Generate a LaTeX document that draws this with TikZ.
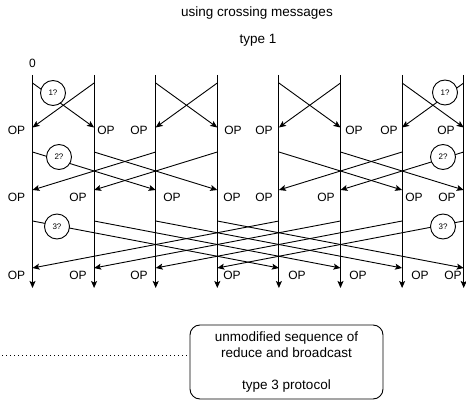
\documentclass[tikz,border=0pt]{standalone}
\usepackage{fontspec}
\setmainfont{Liberation Sans}
\usetikzlibrary{arrows.meta}

\begin{document}
\begin{tikzpicture}[x=1pt,y=-1pt,->,>={Stealth[length=7pt,width=6pt,inset=1.5pt]},line width=0.9pt,
    op/.style={font=\fontsize{12}{14}\selectfont},
    caption/.style={font=\fontsize{13.5}{16.3}\selectfont},
    query/.style={-,shape=circle,draw=black,fill=white,minimum size=25pt,inner sep=0pt,font=\fontsize{8}{9}\selectfont}]
                \useasboundingbox (0,0) rectangle (466,401);
                \node[caption](title)at(257,13){using crossing messages};
                \node[caption](kind)at(258,40){type 1};
                \node[op](zero)at(32.5,63){0};
                % timelines and the points where messages leave and arrive
                \foreach \i in {0,...,7}{
                    \coordinate (t\i) at (32.5+61.6*\i,75);
                    \coordinate (b\i) at (32.5+61.6*\i,288);
                    \coordinate (s1-\i) at (32.5+61.6*\i,83);
                    \coordinate (e1-\i) at (32.5+61.6*\i,127.5);
                    \coordinate (s2-\i) at (32.5+61.6*\i,152);
                    \coordinate (e2-\i) at (32.5+61.6*\i,190);
                    \coordinate (s3-\i) at (32.5+61.6*\i,221);
                    \coordinate (e3-\i) at (32.5+61.6*\i,268);
                    \draw (t\i) -- (b\i);
                }
                % crossing messages
                \foreach \a/\b in {0/1,1/0,2/3,3/2,4/5,5/4,6/7,7/6}
                    \draw (s1-\a) -- (e1-\b);
                \foreach \a/\b in {0/2,2/0,1/3,3/1,4/6,6/4,5/7,7/5}
                    \draw (s2-\a) -- (e2-\b);
                \foreach \a/\b in {0/4,4/0,1/5,5/1,2/6,6/2,3/7,7/3}
                    \draw (s3-\a) -- (e3-\b);
                \node[query](q1l)at(53,93){1?};
                \node[query](q2l)at(59,157){2?};
                \node[query](q3l)at(57,226.5){3?};
                \node[query](q1r)at(445,92.5){1?};
                \node[query](q2r)at(443,157){2?};
                \node[query](q3r)at(443,226.5){3?};
                % OP labels
                \foreach \x [count=\n] in {16.5,106,139,233,264,354,389,446}
                    \node[op](opa\n)at(\x,130){OP};
                \foreach \x [count=\n] in {16.5,78,172,232,264,326,414,447}
                    \node[op](opb\n)at(\x,197){OP};
                \foreach \x [count=\n] in {16.5,78,139,232,297,358,420,453}
                    \node[op](opc\n)at(\x,275){OP};
                % protocol box
                \node[caption,draw=black,rounded corners=10pt,minimum width=193pt,minimum height=74pt,align=center](box)at(286.5,362){unmodified sequence of\\reduce and broadcast\\[16.3pt]type 3 protocol};
                \coordinate (dotstart) at (2,355);
                \draw[-,dash pattern=on 1pt off 3pt] (dotstart) -- (dotstart -| box.west);
\end{tikzpicture}
\end{document}
